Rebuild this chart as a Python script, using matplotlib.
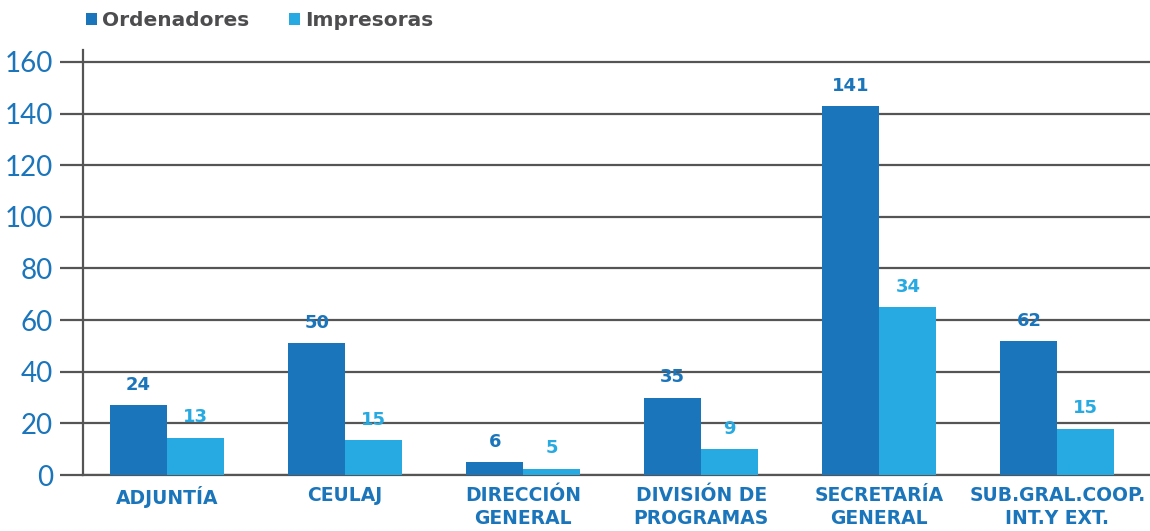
import numpy as np
import matplotlib
matplotlib.use("Agg")
import matplotlib.pyplot as plt

# datos
categorias = ["ADJUNTÍA", "CEULAJ", "DIRECCIÓN\nGENERAL", "DIVISIÓN DE\nPROGRAMAS",
              "SECRETARÍA\nGENERAL", "SUB.GRAL.COOP.\nINT.Y EXT."]
ordenadores = [27, 51, 5, 30, 143, 52]        # altura de las barras
impresoras = [14.5, 13.5, 2.5, 10, 65, 18]
etiquetas_ord = ["24", "50", "6", "35", "141", "62"]   # texto sobre las barras
etiquetas_imp = ["13", "15", "5", "9", "34", "15"]
yticks = [0, 20, 40, 60, 80, 100, 120, 140, 160]

azul = "#1b75bb"
celeste = "#27a9e1"
gris = "#4d4d4f"
negrita = ['DejaVu Sans']

plt.rcParams['font.family'] = ['Lato', 'DejaVu Sans']

fig = plt.figure(figsize=(11.5, 5.31), dpi=100)
ax = fig.add_axes([83 / 1150, 1 - 475 / 531, 1 - 83 / 1150, (475 - 50) / 531])

x = np.arange(len(categorias))
w = 0.32
b1 = ax.bar(x - w / 2, ordenadores, w, color=azul, label="Ordenadores", zorder=3)
b2 = ax.bar(x + w / 2, impresoras, w, color=celeste, label="Impresoras", zorder=3)

# etiquetas de valor
for rect, txt in zip(b1, etiquetas_ord):
    ax.annotate(txt, (rect.get_x() + rect.get_width() / 2, rect.get_height()),
                xytext=(0, 8), textcoords="offset points", ha="center", va="bottom",
                color=azul, fontsize=13, fontweight="bold", family=negrita)
for rect, txt in zip(b2, etiquetas_imp):
    ax.annotate(txt, (rect.get_x() + rect.get_width() / 2, rect.get_height()),
                xytext=(0, 8), textcoords="offset points", ha="center", va="bottom",
                color=celeste, fontsize=13, fontweight="bold", family=negrita)

ax.set_xlim(-0.472, 5.52)
ax.set_ylim(0, 164.6)
ax.set_yticks(yticks)
ax.yaxis.grid(True, color="#555555", linewidth=1.6, zorder=0)
ax.set_axisbelow(True)
ax.tick_params(axis="y", length=16.5, width=1.6, color="#555555", pad=5,
               labelsize=20, labelcolor=azul)

ax.set_xticks(x)
ax.set_xticklabels(categorias, fontsize=13.5, fontweight="bold", color=azul,
                   linespacing=1.25, family=negrita)
ax.tick_params(axis="x", length=0, pad=8)

for s in ["top", "right"]:
    ax.spines[s].set_visible(False)
ax.spines["left"].set_color("#555555")
ax.spines["left"].set_linewidth(1.6)
ax.spines["bottom"].set_color("#555555")
ax.spines["bottom"].set_linewidth(1.6)

fig.legend(handles=[b1, b2], loc="upper left", bbox_to_anchor=(68 / 1150, 1.014), ncol=2,
           frameon=False, handlelength=0.55, handleheight=0.55, handletextpad=0.25,
           columnspacing=1.95, prop={"size": 14.5, "weight": "bold", "family": negrita},
           labelcolor=gris)

fig.savefig("out.png", dpi=100)
